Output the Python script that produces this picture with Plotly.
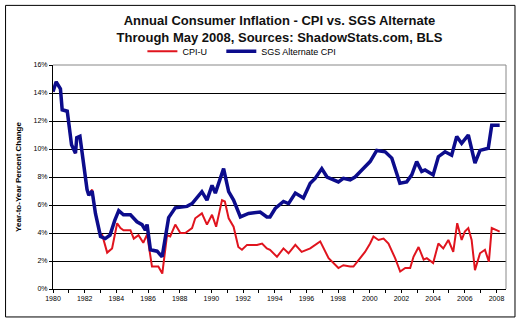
import plotly.graph_objects as go

# ---- data ----
sgs_x = [1980.0, 1980.2, 1980.47, 1980.58, 1980.9, 1981.0, 1981.17, 1981.42, 1981.5, 1981.7,
         1981.84, 1982.15, 1982.26, 1982.47, 1982.68, 1983.0, 1983.3, 1983.6, 1983.9, 1984.15,
         1984.45, 1984.89, 1985.3, 1985.62, 1985.83, 1985.94, 1986.15, 1986.57, 1986.89, 1987.1,
         1987.3, 1987.72, 1988.46, 1988.78, 1988.98, 1989.4, 1989.72, 1990.04, 1990.25, 1990.77,
         1991.09, 1991.4, 1991.83, 1992.35, 1993.08, 1993.5, 1993.7, 1994.03, 1994.55, 1994.87,
         1995.3, 1995.81, 1996.24, 1996.55, 1996.97, 1997.3, 1998.02, 1998.33, 1998.76, 1999.07,
         1999.5, 2000.02, 2000.44, 2000.97, 2001.39, 2001.9, 2002.33, 2002.65, 2002.96, 2003.28,
         2003.49, 2004.0, 2004.33, 2004.75, 2005.17, 2005.49, 2005.8, 2006.22, 2006.64, 2006.96,
         2007.48, 2007.7, 2008.0, 2008.2]
sgs_y = [14.1, 14.8, 14.3, 12.8, 12.7, 11.8, 10.3, 9.7, 10.8, 10.9,
         9.7, 7.1, 6.7, 7.0, 5.4, 3.75, 3.6, 3.85, 4.9, 5.6,
         5.3, 5.3, 4.8, 4.6, 4.2, 4.6, 2.8, 2.7, 2.3, 3.7,
         5.1, 5.8, 5.9, 6.1, 6.35, 6.95, 6.35, 7.4, 6.85, 8.6,
         6.95, 6.35, 5.15, 5.4, 5.5, 5.15, 5.15, 5.75, 6.25, 6.1,
         6.85, 6.5, 7.55, 7.9, 8.6, 8.0, 7.65, 7.9, 7.8, 8.0,
         8.5, 9.1, 9.9, 9.8, 9.35, 7.55, 7.65, 8.15, 9.1, 8.4,
         8.5, 8.15, 9.45, 9.8, 9.55, 10.9, 10.4, 11.0, 9.0, 9.9,
         10.05, 11.7, 11.7, 11.7]

cpi_x = [1980.0, 1980.2, 1980.47, 1980.58, 1980.9, 1981.0, 1981.17, 1981.42, 1981.5, 1981.7,
         1981.84, 1982.15, 1982.26, 1982.47, 1982.68, 1983.0, 1983.1, 1983.42, 1983.73, 1984.05,
         1984.26, 1984.45, 1984.89, 1985.1, 1985.4, 1985.7, 1985.94, 1986.25, 1986.65, 1986.9,
         1987.2, 1987.4, 1987.72, 1988.04, 1988.35, 1988.78, 1988.98, 1989.4, 1989.72, 1990.04,
         1990.3, 1990.67, 1990.85, 1991.09, 1991.4, 1991.7, 1991.93, 1992.25, 1992.88, 1993.2,
         1993.5, 1993.7, 1994.14, 1994.55, 1994.87, 1995.3, 1995.7, 1996.24, 1996.87, 1997.4,
         1998.02, 1998.33, 1998.76, 1998.97, 1999.28, 1999.7, 2000.02, 2000.23, 2000.55, 2000.87,
         2001.18, 2001.6, 2001.92, 2002.24, 2002.55, 2002.76, 2003.08, 2003.4, 2003.6, 2004.0,
         2004.33, 2004.64, 2004.96, 2005.27, 2005.52, 2005.8, 2006.0, 2006.22, 2006.43, 2006.64,
         2006.96, 2007.27, 2007.52, 2007.7, 2008.0, 2008.2]
cpi_y = [14.1, 14.8, 14.3, 12.8, 12.7, 11.8, 10.3, 9.7, 10.8, 10.9,
         9.7, 7.1, 6.7, 7.1, 5.4, 3.75, 3.9, 2.6, 2.9, 4.7,
         4.35, 4.2, 4.2, 3.6, 3.85, 3.3, 3.9, 1.6, 1.6, 1.1,
         3.85, 3.75, 4.6, 4.0, 4.0, 4.35, 5.05, 5.4, 4.6, 5.3,
         4.45, 6.35, 6.25, 5.05, 4.45, 3.0, 2.8, 3.15, 3.15, 3.25,
         2.9, 2.8, 2.3, 2.9, 2.55, 3.15, 2.65, 2.9, 3.4, 2.2,
         1.5, 1.7, 1.6, 1.6, 2.05, 2.65, 3.25, 3.75, 3.5, 3.6,
         3.25, 2.2, 1.25, 1.5, 1.5, 2.3, 3.0, 2.1, 2.2, 1.85,
         3.25, 2.9, 3.5, 2.65, 4.7, 3.5, 4.1, 4.35, 3.5, 1.35,
         2.55, 2.8, 1.95, 4.35, 4.2, 4.1]

x_tick_vals = list(range(1980, 2009))
x_tick_text = [str(y) if y % 2 == 0 else "" for y in x_tick_vals]
y_tick_vals = [0, 2, 4, 6, 8, 10, 12, 14, 16]
y_tick_text = ["0%", "2%", "4%", "6%", "8%", "10%", "12%", "14%", "16%"]

FONT = "Arial, Liberation Sans, sans-serif"

fig = go.Figure()
fig.add_trace(go.Scatter(x=cpi_x, y=cpi_y, mode="lines", name="CPI-U", legend="legend",
                         line=dict(color="#E0141E", width=2)))
fig.add_trace(go.Scatter(x=sgs_x, y=sgs_y, mode="lines", name="SGS Alternate CPI", legend="legend2",
                         line=dict(color="#0C0C8C", width=3.5)))

W, H = 519, 322
L, R, T, B = 52.5, 13, 64.7, 33
pw, ph = W - L - R, H - T - B

def px(xp):
    return (xp - L) / pw

def py(yp):
    return (H - B - yp) / ph

legend_common = dict(orientation="h", xanchor="left", yanchor="middle",
                     font=dict(size=9, family=FONT), bgcolor="rgba(0,0,0,0)",
                     itemwidth=30)

fig.update_layout(
    width=W, height=H,
    margin=dict(l=L, r=R, t=T, b=B),
    paper_bgcolor="white", plot_bgcolor="white",
    font=dict(family=FONT, color="black"),
    title=dict(text="<b>Annual Consumer Inflation - CPI vs. SGS Alternate<br>Through May 2008, Sources: ShadowStats.com, BLS</b>",
               x=0.5, xref="paper", xanchor="center",
               y=1 - 25 / H, yanchor="middle",
               font=dict(size=13, family=FONT, color="#111")),
    showlegend=True,
    legend=dict(x=px(142), y=py(51), **legend_common),
    legend2=dict(x=px(221), y=py(51), **legend_common),
    xaxis=dict(range=[1980, 2008.6], tickmode="array", tickvals=x_tick_vals, ticktext=x_tick_text,
               ticks="outside", ticklen=3, tickcolor="black", showgrid=False,
               showline=True, linecolor="black", linewidth=1,
               tickfont=dict(size=7, family=FONT), zeroline=False),
    yaxis=dict(range=[0, 16], tickmode="array", tickvals=y_tick_vals, ticktext=y_tick_text,
               ticks="outside", ticklen=3, tickcolor="black", showgrid=True, gridcolor="black",
               gridwidth=1, showline=True, linecolor="black", linewidth=1, zeroline=False,
               tickfont=dict(size=7, family=FONT),
               title=dict(text="<b>Year-to-Year Percent Change</b>", font=dict(size=8, family=FONT),
                          standoff=10)),
    shapes=[
        dict(type="line", xref="paper", yref="paper", x0=0, x1=1, y0=1, y1=1,
             line=dict(color="#888", width=1), layer="above"),
        dict(type="line", xref="paper", yref="paper", x0=1, x1=1, y0=0, y1=1,
             line=dict(color="#888", width=1), layer="above"),
        dict(type="rect", xref="paper", yref="paper",
             x0=px(5), x1=px(515), y0=py(317), y1=py(5),
             line=dict(color="black", width=1), fillcolor="rgba(0,0,0,0)", layer="below"),
    ],
)

fig.write_html("out.html")
